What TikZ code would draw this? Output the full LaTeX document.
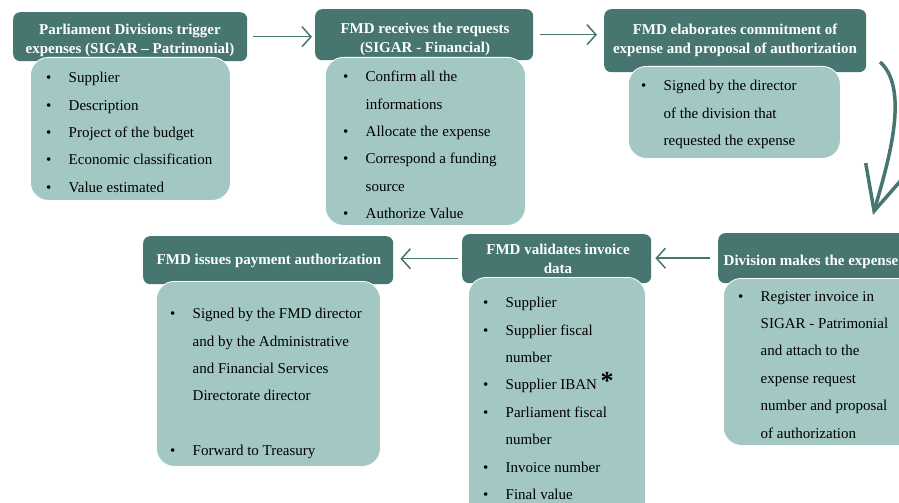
\documentclass[tikz,border=0pt]{standalone}
\usepackage{fontspec}
\setmainfont{Liberation Serif}
\usepackage{tikz}
\usetikzlibrary{arrows.meta}

\definecolor{fmddark}{HTML}{46766F}
\definecolor{fmdlight}{HTML}{A3C8C4}

\newcommand{\bitem}[1]{\makebox[22.5pt][l]{\textbullet}\mbox{#1}}
\newcommand{\bcont}[1]{\hspace*{22.5pt}\mbox{#1}}

\tikzset{
  head/.style={fill=fmddark, rounded corners=7pt, anchor=north west, inner sep=0pt},
  headtext/.style={text=white, align=center, anchor=north, inner sep=0pt,
    font=\bfseries\fontsize{15}{18.5}\selectfont},
  body/.style={fill=fmdlight, draw=white, line width=0.8pt, rounded corners=18pt,
    anchor=north west, inner sep=0pt},
  items/.style={align=left, anchor=north west, inner sep=0pt,
    font=\fontsize{15}{27.4}\selectfont},
  flow/.style={draw=fmddark, line width=1.5pt, -{Straight Barb[length=9pt,width=20pt]}},
  bigflow/.style={draw=fmddark, line width=3.5pt, -{Straight Barb[length=44pt,width=42pt]}}
}

\begin{document}
\begin{tikzpicture}[x=1pt,y=-1pt]
    \useasboundingbox (0,0) rectangle (899,503);
    \clip (0,0) rectangle (899,503);

    % steps
    \node[head, minimum width=234pt, minimum height=49pt] (h1) at (13,12) {};
    \node[head, minimum width=218pt, minimum height=51pt] (h2) at (315,9) {};
    \node[head, minimum width=262pt, minimum height=63pt] (h3) at (604,9) {};
    \node[head, minimum width=192pt, minimum height=50pt] (h4) at (718,233) {};
    \node[head, minimum width=189pt, minimum height=49pt] (h5) at (462,234) {};
    \node[head, minimum width=250pt, minimum height=48pt] (h6) at (143,236) {};

    \node[headtext] (h1t) at (130,24) {Parliament Divisions trigger\\expenses (SIGAR -- Patrimonial)};
    \node[headtext] (h2t) at (425,23) {FMD receives the requests\\(SIGAR - Financial)};
    \node[headtext] (h3t) at (735,24) {FMD elaborates commitment of\\expense and proposal of authorization};
    \node[headtext] (h4t) at (811,255) {Division makes the expense};
    \node[headtext] (h5t) at (558,244) {FMD validates invoice\\data};
    \node[headtext] (h6t) at (269,254) {FMD issues payment authorization};

    % details
    \node[body, minimum width=200pt, minimum height=143pt] (b1) at (30,57) {};
    \node[body, minimum width=200pt, minimum height=168pt] (b2) at (325,57) {};
    \node[body, minimum width=212pt, minimum height=92pt] (b3) at (628,66) {};
    \node[body, minimum width=200pt, minimum height=167pt] (b4) at (723,278) {};
    \node[body, minimum width=177pt, minimum height=250pt] (b5) at (468,277) {};
    \node[body, minimum width=224pt, minimum height=185pt] (b6) at (156,281) {};

    \node[items] (b1t) at (46,72)
        {\bitem{Supplier}\\\bitem{Description}\\\bitem{Project of the budget}\\
         \bitem{Economic classification}\\\bitem{Value estimated}};
    \node[items] (b2t) at (343,71)
        {\bitem{Confirm all the}\\\bcont{informations}\\\bitem{Allocate the expense}\\
         \bitem{Correspond a funding}\\\bcont{source}\\\bitem{Authorize Value}};
    \node[items] (b3t) at (641,80)
        {\bitem{Signed by the director}\\\bcont{of the division that}\\\bcont{requested the expense}};
    \node[items] (b4t) at (738,291)
        {\bitem{Register invoice in}\\\bcont{SIGAR - Patrimonial}\\\bcont{and attach to the}\\
         \bcont{expense request}\\\bcont{number and proposal}\\\bcont{of authorization}};
    \node[items] (b5t) at (483,297)
        {\bitem{Supplier}\\\bitem{Supplier fiscal}\\\bcont{number}\\
         \bitem{Supplier IBAN \raisebox{0pt}{\fontsize{26}{26}\selectfont\bfseries *}}\\
         \bitem{Parliament fiscal}\\\bcont{number}\\\bitem{Invoice number}\\\bitem{Final value}};
    \node[items] (b6t) at (170,308)
        {\bitem{Signed by the FMD director}\\\bcont{and by the Administrative}\\
         \bcont{and Financial Services}\\\bcont{Directorate director}\\[27.4pt]
         \bitem{Forward to Treasury}};

    % arrows
    \draw[flow, shorten <=6pt, shorten >=3pt] (h1.east) -- (h1.east -| h2.west);
    \draw[flow, shorten <=7pt, shorten >=7pt] (h2.east) -- (h2.east -| h3.west);
    \coordinate (turnA) at (880,62);
    \coordinate (turnB) at (873,215);
    \draw[bigflow] (turnA) .. controls (912,90) and (885,172) .. (turnB);
    \draw[flow, shorten <=8pt, shorten >=4pt] (h4.west) -- (h4.west -| h5.east);
    \draw[flow, shorten <=4pt, shorten >=7pt] (h5.west) -- (h5.west -| h6.east);
\end{tikzpicture}
\end{document}
